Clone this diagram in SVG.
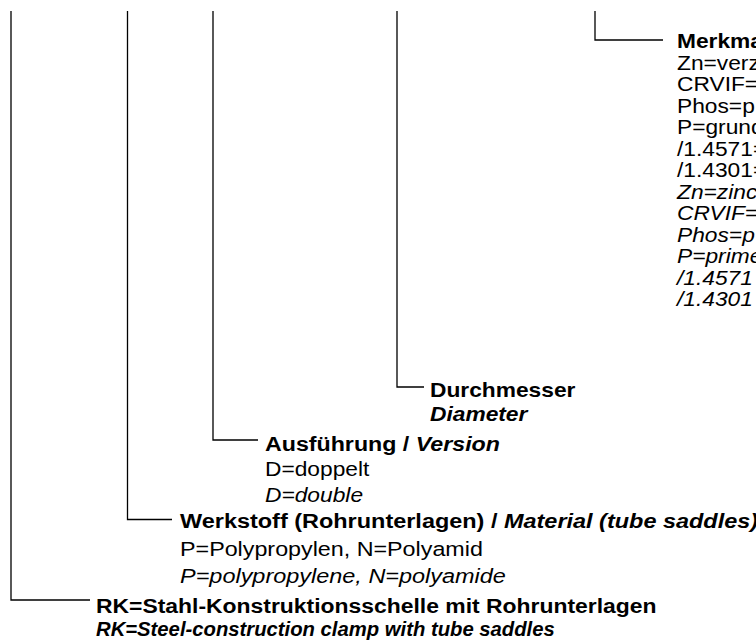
<svg xmlns="http://www.w3.org/2000/svg" width="756" height="643" viewBox="0 0 756 643">
<style>
text{font-family:"Liberation Sans",Arial,sans-serif;font-size:19.5px;fill:#000}
.b{font-weight:bold}
.i{font-style:italic}
.bi{font-weight:bold;font-style:italic}
.c{fill:none;stroke:#000;stroke-width:1.3}
</style>
<rect width="756" height="643" fill="#fff"/>
<g id="connectors">
<polyline class="c" points="11,11 11,600 90,600"/>
<polyline class="c" points="127.5,11 127.5,519.5 172,519.5"/>
<polyline class="c" points="213,11 213,440 258,440"/>
<polyline class="c" points="397,11 397,387 424,387"/>
<polyline class="c" points="595,11 595,40 663,40"/>
</g>
<g id="node-merkmal">
<text class="b" transform="translate(677,48) scale(1.167,1)">Merkma</text>
<text transform="translate(677,69.5) scale(1.167,1)">Zn=verz</text>
<text transform="translate(677,91) scale(1.167,1)">CRVIF=</text>
<text transform="translate(677,112.5) scale(1.167,1)">Phos=p</text>
<text transform="translate(677,134) scale(1.167,1)">P=grund</text>
<text transform="translate(677,155.5) scale(1.167,1)">/1.4571=</text>
<text transform="translate(677,177) scale(1.167,1)">/1.4301=</text>
<text class="i" transform="translate(677,198.5) scale(1.167,1)">Zn=zinc</text>
<text class="i" transform="translate(677,220) scale(1.167,1)">CRVIF=</text>
<text class="i" transform="translate(677,241.5) scale(1.167,1)">Phos=p</text>
<text class="i" transform="translate(677,263) scale(1.167,1)">P=prime</text>
<text class="i" transform="translate(677,284.5) scale(1.167,1)">/1.4571</text>
<text class="i" transform="translate(677,306) scale(1.167,1)">/1.4301</text>
</g>
<g id="node-durchmesser">
<text class="b" transform="translate(430,397) scale(1.167,1)">Durchmesser</text>
<text class="bi" transform="translate(430,421) scale(1.167,1)">Diameter</text>
</g>
<g id="node-ausfuehrung">
<text class="b" transform="translate(265,451) scale(1.19,1)">Ausführung / <tspan class="bi">Version</tspan></text>
<text transform="translate(265,476) scale(1.167,1)">D=doppelt</text>
<text class="i" transform="translate(265,502) scale(1.167,1)">D=double</text>
</g>
<g id="node-werkstoff">
<text class="b" transform="translate(180,528) scale(1.203,1)">Werkstoff (Rohrunterlagen) / <tspan class="bi">Material (tube saddles)</tspan></text>
<text transform="translate(180,556) scale(1.195,1)">P=Polypropylen, N=Polyamid</text>
<text class="i" transform="translate(180,583) scale(1.203,1)">P=polypropylene, N=polyamide</text>
</g>
<g id="node-rk">
<text class="b" transform="translate(96,613) scale(1.175,1)">RK=Stahl-Konstruktionsschelle mit Rohrunterlagen</text>
<text class="bi" transform="translate(96,636) scale(1.04,1)">RK=Steel-construction clamp with tube saddles</text>
</g>
</svg>
